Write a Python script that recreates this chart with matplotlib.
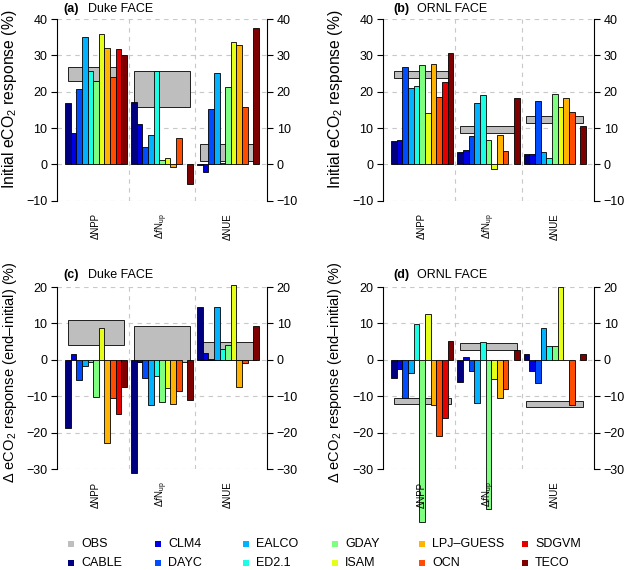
import numpy as np
import matplotlib
matplotlib.use("Agg")
import matplotlib.pyplot as plt
from matplotlib.patches import Rectangle

plt.rcParams['font.family'] = ['Liberation Sans', 'DejaVu Sans']
plt.rcParams['mathtext.fontset'] = 'custom'
plt.rcParams['mathtext.rm'] = 'Liberation Sans'
plt.rcParams['mathtext.it'] = 'Liberation Sans:italic'

# models and colours (jet-like palette)
models = ['CABLE', 'CLM4', 'DAYC', 'EALCO', 'ED2.1', 'GDAY', 'ISAM',
          'LPJ\u2013GUESS', 'OCN', 'SDGVM', 'TECO']
colors = ['#00007F', '#0000E5', '#004CFF', '#00B2FF', '#19FFE5', '#7FFF7F',
          '#E5FF19', '#FFB200', '#FF4C00', '#E50000', '#7F0000']
obs_color = '#BEBEBE'
groups = ['\u0394NPP', '\u0394$f$N$_{\\mathrm{up}}$', '\u0394NUE']
nan = np.nan

# (a) Duke FACE, initial response (%)
a_npp = [16.9, 8.7, 20.6, 35.1, 25.7, 23.0, 36.0, 32.0, 24.0, 31.7, 30.2]
a_fnup = [17.2, 11.2, 4.7, 8.0, 25.7, 1.3, 1.7, -0.6, 7.2, nan, -5.5]
a_nue = [-0.2, -2.1, 15.3, 25.2, 0.5, 21.4, 33.7, 32.9, 15.9, nan, 37.6]
a_obs = [(22.9, 26.7), (15.8, 25.6), (0.8, 5.7)]

# (b) ORNL FACE, initial response (%)
b_npp = [6.3, 6.8, 26.7, 21.0, 21.7, 27.4, 14.1, 27.7, 18.6, 22.8, 30.6]
b_fnup = [3.5, 3.9, 7.8, 16.9, 19.2, 6.6, -1.4, 8.1, 3.6, nan, 18.3]
b_nue = [2.8, 2.8, 17.3, 3.5, 1.8, 19.3, 15.8, 18.3, 14.5, nan, 10.5]
b_obs = [(23.9, 25.6), (8.7, 10.6), (11.5, 13.4)]

# (c) Duke FACE, end - initial (%)
c_npp = [-18.6, 1.5, -5.6, -1.8, -0.7, -10.3, 8.8, -22.8, -10.6, -15.0, -7.5]
c_fnup = [-31.2, -0.7, -5.0, -12.4, -4.5, -11.7, -7.7, -12.2, -8.5, nan, -11.1]
c_nue = [14.5, 2.0, 0.1, 14.5, 3.0, 4.2, 20.5, -7.5, -0.8, nan, 9.2]
c_obs = [(4.2, 10.8), (-0.7, 9.2), (0.0, 5.0)]

# (d) ORNL FACE, end - initial (%)
d_npp = [-4.9, -2.6, -10.5, -3.5, 9.7, -44.5, 12.5, -12.5, -21.0, -16.0, 5.2]
d_fnup = [-6.1, 0.8, -3.2, -11.8, 4.9, -41.0, -5.2, -10.5, -8.0, nan, 2.6]
d_nue = [1.5, -3.2, -6.3, 8.6, 3.7, 3.9, 20.0, -0.1, -12.4, nan, 1.7]
d_obs = [(-12.1, -10.5), (2.7, 4.5), (-12.9, -11.2)]

W, H = 628, 570
fig = plt.figure(figsize=(W / 100, H / 100), dpi=100)


def rect(x0, x1, ytop, ybot):
    return [x0 / W, 1 - ybot / H, (x1 - x0) / W, (ybot - ytop) / H]


nb = len(models)
gap = 0.7
pad = 1.42


def panel(r, series, obs, ylim):
    ax = fig.add_axes(r)
    starts = [g * (nb + gap) for g in range(3)]
    for g, vals in enumerate(series):
        lo, hi = obs[g]
        # observed range as a grey box behind the model bars
        ax.bar(starts[g] + 0.5, hi - lo, bottom=lo, width=nb - 1, align='edge',
               color=obs_color, edgecolor='black', linewidth=0.6, zorder=2)
        x = starts[g] + np.arange(nb)
        v = np.array(vals, dtype=float)
        ok = ~np.isnan(v)
        ax.bar(x[ok], v[ok], width=1, align='edge',
               color=np.array(colors)[ok], edgecolor='black', linewidth=0.6,
               zorder=3, clip_on=False)
        ax.annotate(groups[g], xy=(starts[g] + nb / 2, 0),
                    xycoords=('data', 'axes fraction'), xytext=(0, -9),
                    textcoords='offset points', rotation=90, ha='center',
                    va='top', fontsize=7, zorder=5, annotation_clip=False)
    for g in range(2):
        ax.axvline(starts[g] + nb + gap / 2, color='#C8C8C8',
                   linestyle=(0, (4, 4)), linewidth=0.8, zorder=1)
    ax.set_xlim(-pad, starts[2] + nb + pad)
    ax.set_ylim(*ylim)
    ax.set_yticks(np.arange(ylim[0], ylim[1] + 1, 10))
    ax.yaxis.grid(True, color='#C8C8C8', linestyle=(0, (4, 4)), linewidth=0.8)
    ax.set_axisbelow(True)
    ax.set_xticks([])
    for s in ['top', 'bottom']:
        ax.spines[s].set_visible(False)
    for s in ['left', 'right']:
        ax.spines[s].set_linewidth(0.8)
    ax.tick_params(axis='y', left=True, right=True, labelleft=True,
                   labelright=True, direction='out', length=4, width=0.8,
                   labelsize=9, pad=3)
    ax.patch.set_alpha(0)
    return ax


def px(x, y):
    return x / W, 1 - y / H


panel(rect(57, 267, 19, 200.7), [a_npp, a_fnup, a_nue], a_obs, (-10, 40))
panel(rect(383, 594, 19, 200.7), [b_npp, b_fnup, b_nue], b_obs, (-10, 40))
panel(rect(57, 267, 287, 469), [c_npp, c_fnup, c_nue], c_obs, (-30, 20))
panel(rect(383, 594, 287, 469), [d_npp, d_fnup, d_nue], d_obs, (-30, 20))

# panel titles
titles = [('(a)', 'Duke FACE', 63, 88, 9), ('(b)', 'ORNL FACE', 393, 417, 9),
          ('(c)', 'Duke FACE', 63, 88, 275), ('(d)', 'ORNL FACE', 393, 417, 275)]
for tag, site, x1, x2, y in titles:
    fig.text(*px(x1, y), tag, fontsize=9, fontweight='bold', ha='left', va='center')
    fig.text(*px(x2, y), site, fontsize=9, ha='left', va='center')

# y labels
lab1 = 'Initial eCO$_2$ response (%)'
lab2 = '\u0394 eCO$_2$ response (end\u2013initial) (%)'
fig.text(*px(10, 99), lab1, rotation=90, ha='center', va='center', fontsize=11.3)
fig.text(*px(335, 99), lab1, rotation=90, ha='center', va='center', fontsize=11.3)
fig.text(*px(10, 372), lab2, rotation=90, ha='center', va='center', fontsize=10.5)
fig.text(*px(335, 372), lab2, rotation=90, ha='center', va='center', fontsize=10.5)

# legend (2 rows x 6 columns)
leg_names = ['OBS'] + models
leg_cols = [obs_color] + colors
col_x = [68, 155, 243, 332, 419, 522]
row_y = [544, 563]
for k, (name, c) in enumerate(zip(leg_names, leg_cols)):
    cx = col_x[k // 2]
    cy = row_y[k % 2]
    x0, y0 = px(cx, cy + 3)
    fig.add_artist(Rectangle((x0, y0), 6 / W, 6 / H, transform=fig.transFigure,
                             facecolor=c, edgecolor='none'))
    fig.text(*px(cx + 13, cy), name, fontsize=9, ha='left', va='center')

fig.savefig('out.png', dpi=100)
